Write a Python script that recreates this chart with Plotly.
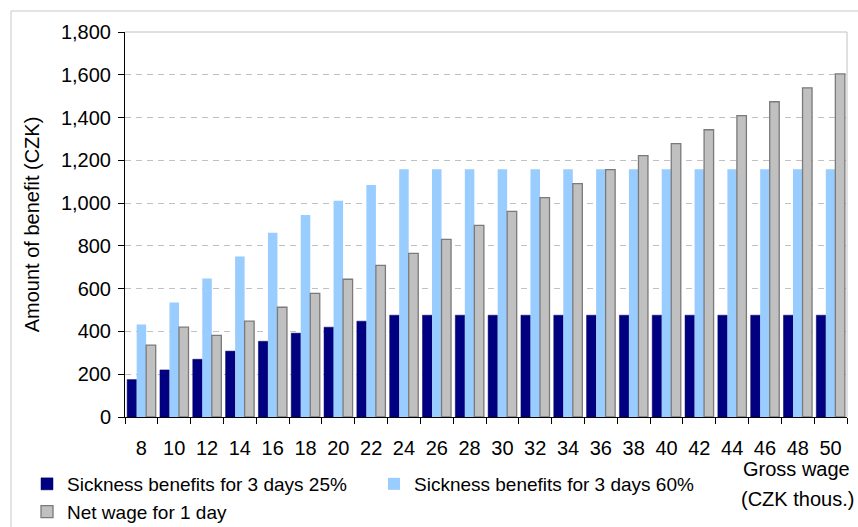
import plotly.graph_objects as go

wages = [8, 10, 12, 14, 16, 18, 20, 22, 24, 26, 28, 30, 32, 34, 36, 38, 40, 42, 44, 46, 48, 50]
categories = [str(w) for w in wages]
sick_25 = [175, 220, 270, 308, 354, 392, 420, 448, 476, 476, 476, 476, 476, 476, 476,
           476, 476, 476, 476, 476, 476, 476]
sick_60 = [432, 535, 647, 750, 861, 945, 1011, 1085, 1158, 1158, 1158, 1158, 1158, 1158,
           1158, 1158, 1158, 1158, 1158, 1158, 1158, 1158]
net_wage = [336, 420, 382, 448, 513, 578, 644, 709, 765, 830, 896, 961, 1026, 1091, 1157,
            1222, 1278, 1343, 1409, 1474, 1539, 1604]
y_ticks = [0, 200, 400, 600, 800, 1000, 1200, 1400, 1600, 1800]

names = ["Sickness benefits for 3 days 25%", "Sickness benefits for 3 days 60%", "Net wage for 1 day"]

FONT = "Liberation Sans, Arial, sans-serif"
W, H = 858, 527
L, R, T, B = 125, 11, 32, 110
pw = W - L - R
ph = H - T - B

def px_x(x):
    return (x - L) / pw

def px_y(y):
    return (H - B - y) / ph

fig = go.Figure()
fig.add_trace(go.Bar(x=categories, y=sick_25, name=names[0],
                     marker=dict(color="#000080", line=dict(color="#000060", width=0.5))))
fig.add_trace(go.Bar(x=categories, y=sick_60, name=names[1],
                     marker=dict(color="#99CCFF", line=dict(color="#99CCFF", width=0))))
fig.add_trace(go.Bar(x=categories, y=net_wage, name=names[2],
                     marker=dict(color="#C0C0C0", line=dict(color="#7A7A7A", width=1.3))))

fig.update_layout(
    width=W, height=H,
    margin=dict(l=L, r=R, t=T, b=B, pad=0, autoexpand=False),
    paper_bgcolor="white", plot_bgcolor="white",
    font=dict(family=FONT, size=20, color="black"),
    barmode="group", bargap=0.13, bargroupgap=0,
    showlegend=True,
    legend=dict(orientation="h", x=px_x(27), xanchor="left", y=px_y(465), yanchor="top",
                font=dict(size=19, family=FONT), entrywidth=302, entrywidthmode="pixels",
                bgcolor="rgba(0,0,0,0)", tracegroupgap=0, itemwidth=30),
    xaxis=dict(type="category", showline=True, linecolor="black", linewidth=1,
               ticks="outside", ticklen=6, tickcolor="black", tickson="boundaries",
               showgrid=False, tickfont=dict(size=20), ticklabelstandoff=13),
    yaxis=dict(range=[0, 1800], tickvals=y_ticks, tickformat=",", showline=True,
               linecolor="black", linewidth=1, ticks="outside", ticklen=6, tickcolor="black",
               showgrid=True, gridcolor="#C0C0C0", gridwidth=1, griddash="6px,5px",
               zeroline=False, tickfont=dict(size=20), ticklabelstandoff=3,
               title=dict(text="Amount of benefit (CZK)", font=dict(size=20), standoff=15)),
)

# plot-area border (top and right), outer chart frame
fig.add_shape(type="line", xref="paper", yref="paper", x0=0, x1=1, y0=1, y1=1,
              line=dict(color="#C0C0C0", width=1))
fig.add_shape(type="line", xref="paper", yref="paper", x0=1, x1=1, y0=0, y1=1,
              line=dict(color="#C0C0C0", width=1))
fig.add_shape(type="line", xref="paper", yref="paper", x0=px_x(11), x1=px_x(870),
              y0=px_y(11), y1=px_y(11), line=dict(color="#C8C8C8", width=1))
fig.add_shape(type="line", xref="paper", yref="paper", x0=px_x(11), x1=px_x(11),
              y0=px_y(11), y1=px_y(540), line=dict(color="#C8C8C8", width=1))

fig.add_annotation(text="Gross wage", xref="paper", yref="paper", x=px_x(796), y=px_y(469),
                   xanchor="center", yanchor="middle", showarrow=False, font=dict(size=20))
fig.add_annotation(text="(CZK thous.)", xref="paper", yref="paper", x=px_x(797), y=px_y(499),
                   xanchor="center", yanchor="middle", showarrow=False, font=dict(size=20))

fig.write_html(
    "out.html",
    config={"displayModeBar": False},
    post_script="document.body.style.margin='0';document.body.style.overflow='hidden';",
)
